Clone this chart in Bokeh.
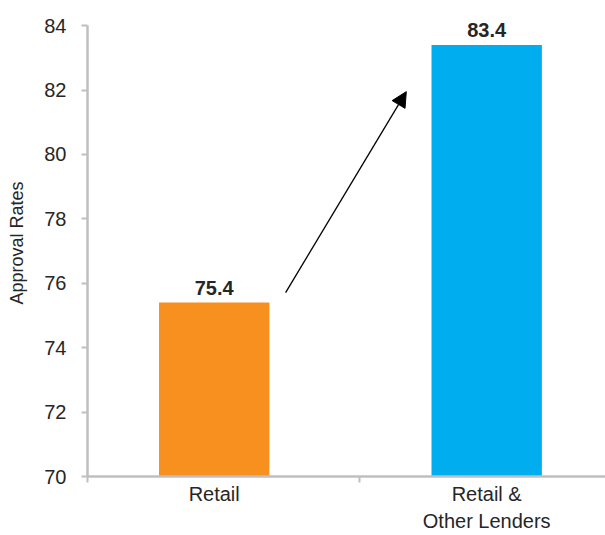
from bokeh.plotting import figure
from bokeh.models import (ColumnDataSource, Range1d, FixedTicker, Arrow, NormalHead)
from bokeh.embed import file_html
from bokeh.resources import INLINE
from bokeh.core.properties import value

# ---- data ----
categories = ["Retail", "Retail &\nOther Lenders"]
approval_rates = [75.4, 83.4]
bar_colors = ["#F7901E", "#00AEEF"]
cat_positions = [0.465, 1.465]
cat_bounds = [0, 1, 2]
y_ticks = [70, 72, 74, 76, 78, 80, 82, 84]
y_title = "Approval Rates"
arrow_start = (0.727, 75.71)
arrow_end = (1.17, 81.95)
label_lift = 0.45  # gap between bar top and value label, in axis units

FONT = "Liberation Sans"
AXIS_GRAY = "#BFBFBF"
TEXT = "#262626"
FS = "20px"

labels = [f"{v:.1f}" for v in approval_rates]
label_y = [v + label_lift for v in approval_rates]
src = ColumnDataSource(dict(x=cat_positions, top=approval_rates, color=bar_colors,
                            label=labels, ly=label_y))

p = figure(width=605, height=535, output_backend="svg", toolbar_location=None,
           x_range=Range1d(0, 1.901), y_range=Range1d(70, 84.5),
           min_border_left=87, min_border_right=0, min_border_top=9, min_border_bottom=59)
p.outline_line_color = None
p.grid.grid_line_color = None
p.background_fill_color = "white"
p.border_fill_color = "white"

p.vbar(x="x", top="top", bottom=70, width=0.405, color="color", source=src, line_color=None)

p.text(x="x", y="ly", text="label", source=src, text_align="center",
       text_baseline="alphabetic", text_font=value(FONT),
       text_font_size=FS, text_font_style="bold", text_color=TEXT)

p.add_layout(Arrow(end=NormalHead(size=15, fill_color="black", line_color="black"),
                   x_start=arrow_start[0], y_start=arrow_start[1],
                   x_end=arrow_end[0], y_end=arrow_end[1],
                   line_color="black", line_width=1.3))

# y axis
ya = p.yaxis[0]
ya.ticker = FixedTicker(ticks=y_ticks)
ya.bounds = (70, 84)
ya.axis_line_color = AXIS_GRAY
ya.axis_line_width = 2.5
ya.major_tick_line_color = AXIS_GRAY
ya.major_tick_line_width = 2
ya.major_tick_out = 6
ya.major_tick_in = 0
ya.minor_tick_line_color = None
ya.major_label_standoff = 15
ya.major_label_text_font = FONT
ya.major_label_text_font_size = FS
ya.major_label_text_color = TEXT
ya.axis_label = y_title
ya.axis_label_standoff = 14
ya.axis_label_text_font = FONT
ya.axis_label_text_font_size = "18px"
ya.axis_label_text_font_style = "normal"
ya.axis_label_text_color = TEXT

# x axis
xa = p.xaxis[0]
xa.ticker = FixedTicker(ticks=cat_positions, minor_ticks=cat_bounds)
xa.major_label_overrides = {cat_positions[i]: categories[i] for i in range(len(categories))}
xa.axis_line_color = AXIS_GRAY
xa.axis_line_width = 2.5
xa.major_tick_line_color = None
xa.major_tick_out = 0
xa.major_tick_in = 0
xa.minor_tick_line_color = AXIS_GRAY
xa.minor_tick_line_width = 2
xa.minor_tick_out = 6
xa.minor_tick_in = 0
xa.major_label_standoff = 0
xa.major_label_text_font = FONT
xa.major_label_text_font_size = FS
xa.major_label_text_line_height = 1.25
xa.major_label_text_color = TEXT

open("out.html", "w").write(file_html(p, INLINE))
